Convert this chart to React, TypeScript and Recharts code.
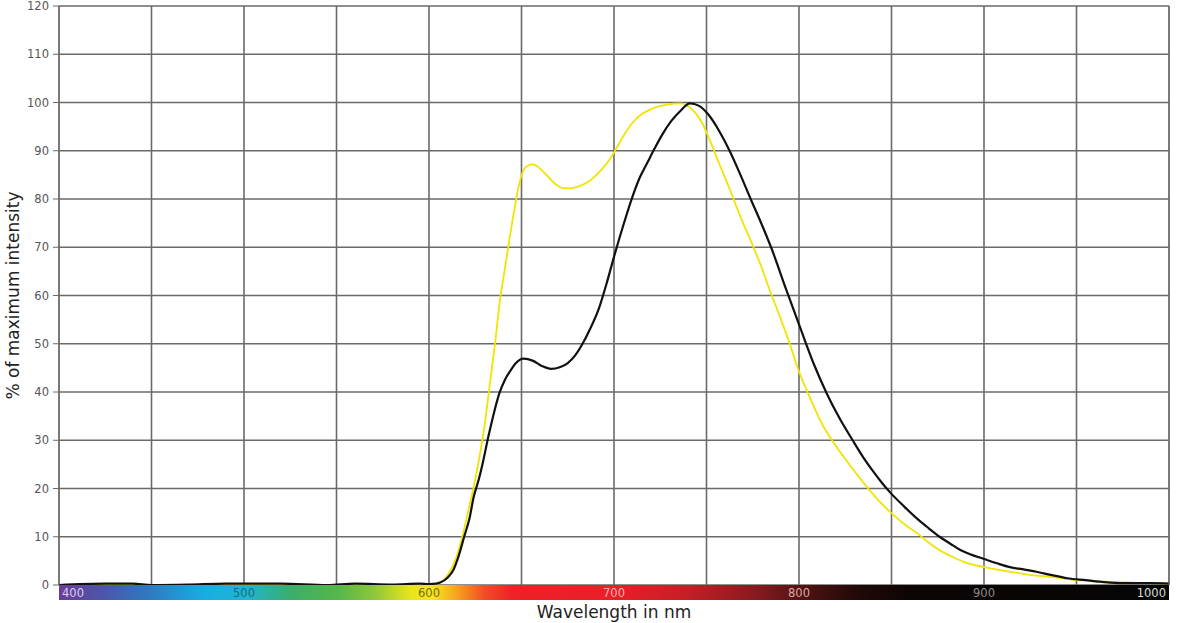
import { CartesianGrid, Line, LineChart, XAxis, YAxis } from "recharts";

// wavelength axis (nm) and intensity axis (%)
const wavelengthTicks = [400, 450, 500, 550, 600, 650, 700, 750, 800, 850, 900, 950, 1000];
const labelledWavelengths = [400, 500, 600, 700, 800, 900, 1000];
const percentTicks = [0, 10, 20, 30, 40, 50, 60, 70, 80, 90, 100, 110, 120];

// black curve
const blackNm = [
  400, 425, 440, 450, 470, 490, 520, 545, 560, 580, 595, 600, 604, 606, 610, 613, 616, 619,
  622, 624, 627, 629, 632, 635, 638, 641, 644, 647, 651, 656, 661, 666, 671, 675, 679, 683,
  687, 692, 696, 700, 705, 710, 714, 718, 722, 726, 731, 736, 741, 746, 751, 757, 763, 768,
  774, 780, 785, 793, 800, 808, 815, 822, 829, 835, 840, 845, 849, 857, 864, 870, 876, 882, 887,
  893, 900, 907, 914, 922, 929, 936, 945, 955, 965, 975, 990, 1000,
];
const blackPct = [
  0, 0.3, 0.3, 0, 0.1, 0.3, 0.3, 0, 0.3, 0.1, 0.3, 0.2, 0.3, 0.5, 1.5, 3, 6, 10,
  14, 18, 22, 25.2, 30.6, 35.5, 39.7, 42.5, 44.4, 46, 46.9, 46.5, 45.4, 44.8, 45.2, 46, 47.6, 50,
  53, 57.5, 62.5, 68, 74.5, 80.5, 84.5, 87.5, 90.5, 93.3, 96.2, 98.3, 99.8, 99.3, 97.5, 94, 89.6, 85.3,
  79.9, 74.6, 69.9, 61.3, 54, 45.8, 39.7, 34.5, 30, 26.3, 23.6, 21.1, 19.3, 16.2, 13.7, 11.8, 10, 8.5, 7.3,
  6.3, 5.4, 4.5, 3.7, 3.2, 2.7, 2.1, 1.4, 1.0, 0.6, 0.4, 0.4, 0.3,
];

// yellow curve
const yellowNm = [
  400, 500, 560, 600, 605, 610, 615, 618, 621, 624, 627, 630, 633, 636, 638, 641, 643, 646,
  649, 652, 656, 660, 664, 668, 672, 676, 680, 685, 690, 694, 698, 701, 705, 710, 715, 721,
  728, 736, 739, 743, 748, 752, 757, 763, 766, 770, 775, 780, 784, 790, 795, 799, 805, 813,
  820, 826, 832, 838, 844, 850, 857, 864, 870, 876, 882, 889, 900, 910, 918, 927, 936, 950,
  965, 980, 1000,
];
const yellowPct = [
  0, 0, 0, 0, 0.3, 2, 6, 10, 15, 20, 26, 33, 42, 51, 58, 65.5, 70.5, 77.5,
  83.5, 86.5, 87.2, 86.3, 84.8, 83.2, 82.3, 82.2, 82.5, 83.3, 84.8, 86.4, 88.4, 90.3, 93, 95.8, 97.6, 98.8,
  99.5, 99.8, 99.5, 98.3, 95.5, 92, 87.2, 81.6, 78.6, 74.8, 70.4, 65.6, 61.3, 55.3, 50, 45.3, 39.6, 33,
  28.8, 25.6, 22.6, 19.7, 17.1, 14.9, 12.6, 10.7, 8.8, 7.2, 6, 4.8, 3.7, 3, 2.5, 2.0, 1.7, 1.0,
  0.7, 0.5, 0.3,
];

const blackData = blackNm.map((nm, i) => ({ nm, pct: blackPct[i] }));
const yellowData = yellowNm.map((nm, i) => ({ nm, pct: yellowPct[i] }));

// spectrum colour band under the axis
const spectrumStops: [number, string][] = [
  [400, "#6a3d9a"],
  [425, "#4b57aa"],
  [450, "#2d7cc2"],
  [478, "#18ade2"],
  [500, "#1fb4d6"],
  [525, "#3aae6a"],
  [550, "#55b64a"],
  [570, "#8cc63e"],
  [590, "#e8e41c"],
  [602, "#f5e51c"],
  [615, "#f7a21f"],
  [630, "#f04d27"],
  [645, "#ee2128"],
  [700, "#ea1f27"],
  [740, "#c41f26"],
  [775, "#8a1b1f"],
  [800, "#551313"],
  [830, "#240909"],
  [860, "#0c0505"],
  [1000, "#050505"],
];
const labelColours: Record<number, string> = {
  400: "#d9cde9",
  500: "#1d6d7a",
  600: "#7a6a12",
  700: "#f7b0b0",
  800: "#d9a7a7",
  900: "#8a8a8a",
  1000: "#dcdcdc",
};

const WavelengthTick = (props: any) => {
  const { x, y, payload, index, width } = props;
  const v = payload.value as number;
  const bar =
    index === 0 ? (
      <g>
        <defs>
          <linearGradient id="spectrum" x1="0" y1="0" x2="1" y2="0">
            {spectrumStops.map(([nm, c]) => (
              <stop key={nm} offset={`${((nm - 400) / 600) * 100}%`} stopColor={c} />
            ))}
          </linearGradient>
        </defs>
        <rect x={x} y={y} width={width ?? 1110} height={15} fill="url(#spectrum)" />
      </g>
    ) : null;
  if (!labelledWavelengths.includes(v)) return bar;
  const anchor = v === 400 ? "start" : v === 1000 ? "end" : "middle";
  const dx = v === 400 ? 3 : v === 1000 ? -3 : 0;
  return (
    <g>
      {bar}
      <text
        x={x + dx}
        y={y + 8}
        textAnchor={anchor}
        dominantBaseline="central"
        fontSize={11.5}
        fontFamily="DejaVu Sans"
        fill={labelColours[v]}
      >
        {v}
      </text>
    </g>
  );
};

export default function App() {
  return (
    <div style={{ position: "absolute", left: 0, top: 0, width: 1200, height: 623, background: "#fff" }}>
      <LineChart width={1200} height={623} margin={{ top: 6, right: 0, bottom: 0, left: 0 }}>
        <CartesianGrid yAxisId="left" stroke="#6a6a6a" strokeWidth={1.6} />
        <XAxis
          dataKey="nm"
          type="number"
          domain={[400, 1000]}
          ticks={wavelengthTicks}
          allowDuplicatedCategory={false}
          height={38}
          axisLine={false}
          tickLine={false}
          tickSize={0}
          tickMargin={0}
          interval={0}
          tick={<WavelengthTick />}
          label={{
            value: "Wavelength in nm",
            position: "insideBottom",
            offset: 5,
            fontSize: 17,
            fontFamily: "DejaVu Sans",
            fill: "#222",
          }}
        />
        <YAxis
          yAxisId="left"
          domain={[0, 120]}
          ticks={percentTicks}
          interval={0}
          width={59}
          stroke="#6a6a6a"
          tickSize={6}
          tickMargin={4}
          tick={{ fontSize: 11.5, fontFamily: "DejaVu Sans", fill: "#555" }}
          label={{
            value: "% of maximum intensity",
            angle: -90,
            position: "insideLeft",
            offset: 13,
            style: { textAnchor: "middle" },
            fontSize: 17,
            fontFamily: "DejaVu Sans",
            fill: "#222",
          }}
        />
        <YAxis
          yAxisId="right"
          orientation="right"
          domain={[0, 120]}
          ticks={percentTicks}
          interval={0}
          width={31}
          stroke="#6a6a6a"
          tickSize={6}
          tickMargin={4}
          tick={{ fontSize: 11.5, fontFamily: "DejaVu Sans", fill: "#555" }}
        />
        <Line
          yAxisId="left"
          data={yellowData}
          dataKey="pct"
          type="monotone"
          stroke="#f2e400"
          strokeWidth={1.8}
          dot={false}
          isAnimationActive={false}
        />
        <Line
          yAxisId="left"
          data={blackData}
          dataKey="pct"
          type="monotone"
          stroke="#111"
          strokeWidth={2.2}
          dot={false}
          isAnimationActive={false}
        />
      </LineChart>
    </div>
  );
}
